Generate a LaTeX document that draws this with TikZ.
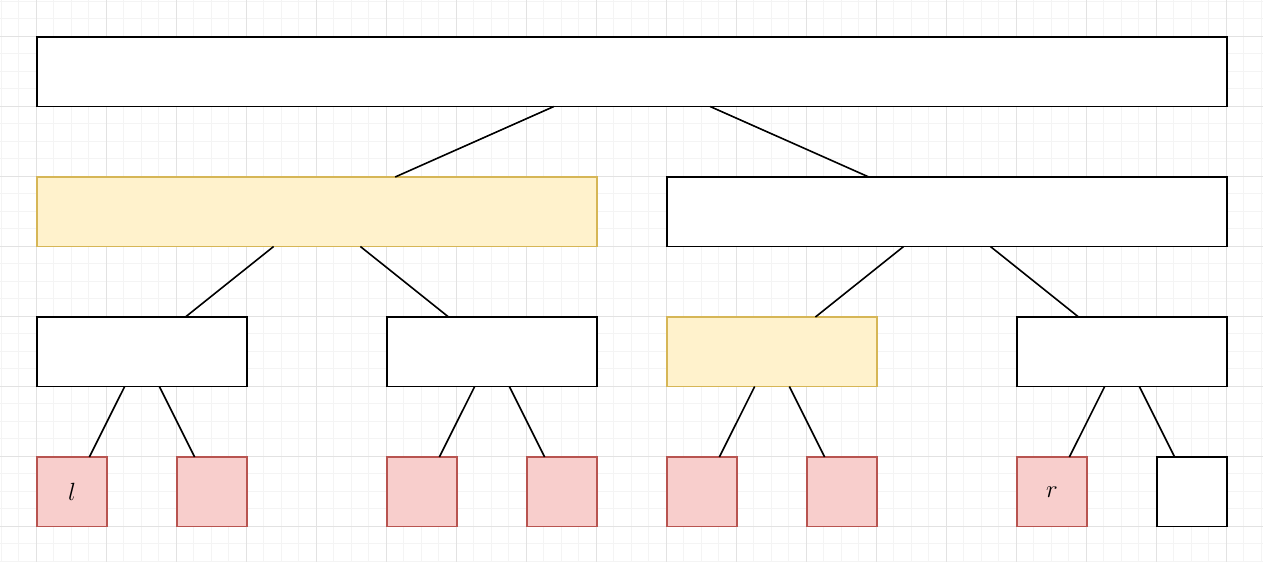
\documentclass[tikz,border=0pt]{standalone}
\usepackage{tikz}
\definecolor{minorgrid}{HTML}{F4F4F4}
\definecolor{majorgrid}{HTML}{E2E2E2}
\definecolor{yelfill}{HTML}{FFF2CC}
\definecolor{yeldraw}{HTML}{D6B656}
\definecolor{redfill}{HTML}{F8CECC}
\definecolor{reddraw}{HTML}{B85450}
\tikzset{
  basebox/.style={line width=1.8pt, inner sep=0pt, outer sep=0pt, minimum height=69.5pt, anchor=north west},
  box/.style={basebox, draw=black, fill=white},
  yelbox/.style={basebox, draw=yeldraw, fill=yelfill},
  redbox/.style={basebox, draw=reddraw, fill=redfill},
  edge/.style={line width=1.6pt, draw=black},
  lbl/.style={font=\fontsize{26}{30}\selectfont}
}
\begin{document}
\begin{tikzpicture}[x=1pt, y=-1pt]
\useasboundingbox (0,0) rectangle (1263,562);
\fill[white] (0,0) rectangle (1263,562);
% grid
\foreach \i in {0,...,72} {
  \draw[minorgrid, line width=0.8pt] ({1+17.5*\i},0) -- ({1+17.5*\i},562);
}
\foreach \i in {0,...,32} {
  \draw[minorgrid, line width=0.8pt] (0,{1+17.5*\i}) -- (1263,{1+17.5*\i});
}
\foreach \i in {0,...,18} {
  \draw[majorgrid, line width=0.8pt] ({36+70*\i},0) -- ({36+70*\i},562);
}
\foreach \i in {0,...,7} {
  \draw[majorgrid, line width=0.8pt] (0,{36+70*\i}) -- (1263,{36+70*\i});
}
% level 1
\node[box, minimum width=1190pt] (root) at (37,37) {};
% level 2
\node[yelbox, minimum width=560pt] (a) at (37,177) {};
\node[box, minimum width=560pt] (b) at (667,177) {};
% level 3
\node[box, minimum width=210pt] (aa) at (37,317) {};
\node[box, minimum width=210pt] (ab) at (387,317) {};
\node[yelbox, minimum width=210pt] (ba) at (667,317) {};
\node[box, minimum width=210pt] (bb) at (1017,317) {};
% level 4
\node[redbox, minimum width=70pt] (aaa) at (37,457) {};
\node[redbox, minimum width=70pt] (aab) at (177,457) {};
\node[redbox, minimum width=70pt] (aba) at (387,457) {};
\node[redbox, minimum width=70pt] (abb) at (527,457) {};
\node[redbox, minimum width=70pt] (baa) at (667,457) {};
\node[redbox, minimum width=70pt] (bab) at (807,457) {};
\node[redbox, minimum width=70pt] (bba) at (1017,457) {};
\node[box, minimum width=70pt] (bbb) at (1157,457) {};
\node[lbl] (ll) at (aaa.center) {$l$};
\node[lbl] (rl) at (bba.center) {$r$};
% edges
\foreach \p/\c in {root/a, root/b, a/aa, a/ab, b/ba, b/bb, aa/aaa, aa/aab, ab/aba, ab/abb, ba/baa, ba/bab, bb/bba, bb/bbb} {
  \draw[edge] (\p) -- (\c);
}
\end{tikzpicture}
\end{document}
